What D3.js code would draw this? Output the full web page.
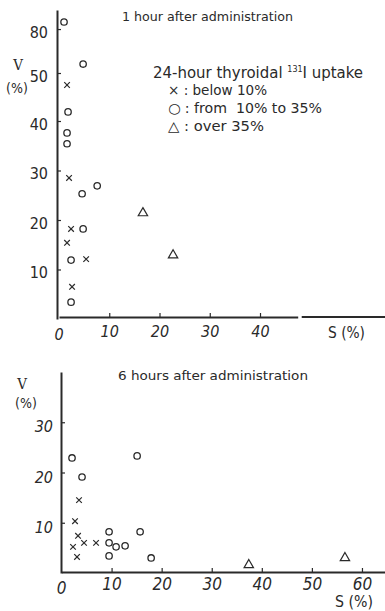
<!DOCTYPE html>
<html><head><meta charset="utf-8">
<script src="https://cdn.jsdelivr.net/npm/d3@7/dist/d3.min.js"></script>
<style>
html,body{margin:0;padding:0;background:#fff;}
svg{display:block;}
text{fill:#2a2a2a;font-family:"DejaVu Sans Condensed","DejaVu Sans",sans-serif;font-stretch:condensed;}
.pre{white-space:pre;}
</style></head>
<body>
<script>
// ---------- data ----------
// Panel 1: 1 hour after administration  (S %, V %)
const s1hBelow = [1.6, 2.0, 2.4, 1.6, 5.4, 2.6];
const v1hBelow = [47.5, 28.5, 18.2, 15.4, 12.1, 6.5];
const s1hMid   = [1.0, 4.8, 1.8, 1.6, 1.6, 4.6, 7.6, 4.8, 2.4, 2.4];
const v1hMid   = [84.8, 56.1, 41.9, 37.6, 35.4, 25.3, 26.9, 18.2, 11.9, 3.4];
const s1hOver  = [16.7, 22.7];
const v1hOver  = [21.4, 12.9];
// Panel 2: 6 hours after administration
const s6hBelow = [3.5, 2.7, 3.3, 2.3, 4.5, 6.9, 3.1];
const v6hBelow = [14.5, 10.3, 7.4, 5.2, 6.0, 6.0, 3.2];
const s6hMid   = [2.1, 15.1, 4.1, 9.5, 9.5, 10.9, 12.7, 15.7, 9.5, 17.9];
const v6hMid   = [22.9, 23.3, 19.1, 8.2, 6.0, 5.2, 5.4, 8.2, 3.4, 3.0];
const s6hOver  = [37.4, 56.6];
const v6hOver  = [1.6, 3.0];
// ticks
const yTicks1h = [10, 20, 30, 40, 50, 80];
const xTicks1h = [10, 20, 30, 40];
const yTicks6h = [10, 20, 30];
const xTicks6h = [10, 20, 30, 40, 50, 60];
const titles = ["1 hour after administration", "6 hours after administration"];
const legendTitle = "24-hour thyroidal ";
const legendItems = ["× : below 10%", "○ : from  10% to 35%", "△ : over 35%"];

const W = 385, H = 611, ink = "#2a2a2a";
const svg = d3.select("body").append("svg").attr("width", W).attr("height", H);

function zip(a, b){ return a.map((d,i)=>({s:d, v:b[i]})); }

function drawMarks(g, x, y, below, mid, over){
  g.append("g").selectAll("path").data(below).join("path")
    .attr("d", d => { const cx=x(d.s), cy=y(d.v), r=2.8;
      return `M${cx-r},${cy-r}L${cx+r},${cy+r}M${cx-r},${cy+r}L${cx+r},${cy-r}`; })
    .attr("stroke", ink).attr("stroke-width", 1.2).attr("fill","none");
  g.append("g").selectAll("circle").data(mid).join("circle")
    .attr("cx", d=>x(d.s)).attr("cy", d=>y(d.v)).attr("r", 3.2)
    .attr("stroke", ink).attr("stroke-width", 1.3).attr("fill","none");
  const tri = d3.symbol().type(d3.symbolTriangle).size(38);
  g.append("g").selectAll("path").data(over).join("path")
    .attr("d", tri).attr("transform", d=>`translate(${x(d.s)},${y(d.v)})`)
    .attr("stroke", ink).attr("stroke-width", 1.2).attr("fill","none");
}

function styleAxis(g){
  g.selectAll(".domain").attr("stroke", ink).attr("stroke-width", 2);
  g.selectAll(".tick line").attr("stroke", ink).attr("stroke-width", 1.2);
  g.selectAll(".tick text").attr("fill", ink);
}

// ---------- Panel 1 ----------
{
  const x = d3.scaleLinear().domain([0, 47.5]).range([59, 297.7]);
  const y = d3.scaleLinear().domain([0, 40, 50, 93]).range([319, 121, 73, 10]);
  const gy = svg.append("g").attr("transform", "translate(57,0)")
    .call(d3.axisLeft(y).tickValues(yTicks1h).tickSizeInner(-4).tickSizeOuter(0).tickPadding(9));
  styleAxis(gy);
  gy.selectAll(".tick text").attr("font-size", 16).attr("dy", "0.5em");
  const gx = svg.append("g").attr("transform", "translate(0,317)")
    .call(d3.axisBottom(x).tickValues(xTicks1h).tickSizeInner(-4).tickSizeOuter(0).tickPadding(10));
  styleAxis(gx);
  gx.selectAll(".tick text").attr("font-size", 16).attr("font-style","italic").attr("dy","0.6em");
  // continuation of x axis after the gap
  svg.append("line").attr("x1", x(48.3)).attr("x2", W).attr("y1", 317).attr("y2", 317)
    .attr("stroke", ink).attr("stroke-width", 2);
  svg.append("text").attr("x", x(0)).attr("y", 340).attr("text-anchor","middle")
    .attr("font-size", 16).attr("font-style","italic").text("0");
  svg.append("text").attr("x", 328).attr("y", 338).attr("font-size", 15).text("S (%)")
    .attr("textLength", 37).attr("lengthAdjust","spacingAndGlyphs");
  svg.append("text").attr("x", 18).attr("y", 70).attr("text-anchor","middle")
    .style("font-family","'DejaVu Serif',serif").attr("font-size", 15).text("V");
  svg.append("text").attr("x", 17).attr("y", 93).attr("text-anchor","middle")
    .attr("font-size", 14).text("(%)");
  svg.append("text").attr("x", 122).attr("y", 21).attr("font-size", 13).text(titles[0])
    .attr("textLength", 171).attr("lengthAdjust","spacingAndGlyphs");
  // legend
  svg.append("text").attr("x", 153).attr("y", 78).attr("font-size", 15)
    .attr("textLength", 210).attr("lengthAdjust","spacingAndGlyphs")
    .call(t => { t.append("tspan").text(legendTitle);
                 t.append("tspan").attr("font-size", 8).attr("dy", -6).text("131");
                 t.append("tspan").attr("dy", 6).text("I uptake"); });
  const legY = [95, 113, 131], legW = [99, 154, 96];
  legendItems.forEach((s,i)=>{
    svg.append("text").attr("class","pre").attr("x", 168).attr("y", legY[i]).attr("font-size", 14).text(s)
      .attr("textLength", legW[i]).attr("lengthAdjust","spacingAndGlyphs");
  });
  drawMarks(svg.append("g"), x, y, zip(s1hBelow, v1hBelow), zip(s1hMid, v1hMid), zip(s1hOver, v1hOver));
}

// ---------- Panel 2 ----------
{
  const x = d3.scaleLinear().domain([0, 64.6]).range([61.5, 385]);
  const y = d3.scaleLinear().domain([0, 40]).range([573, 372]);
  const gy = svg.append("g").attr("transform", "translate(61,0)")
    .call(d3.axisLeft(y).tickValues(yTicks6h).tickSizeInner(-4).tickSizeOuter(0).tickPadding(8));
  styleAxis(gy);
  gy.selectAll(".tick text").attr("font-size", 16).attr("font-style","italic").attr("dy", "0.6em");
  const gx = svg.append("g").attr("transform", "translate(0,572)")
    .call(d3.axisBottom(x).tickValues(xTicks6h).tickSizeInner(-4).tickSizeOuter(0).tickPadding(9));
  styleAxis(gx);
  gx.selectAll(".tick text").attr("font-size", 17).attr("font-style","italic").attr("dy","0.55em");
  svg.append("text").attr("x", x(0)).attr("y", 594).attr("text-anchor","middle")
    .attr("font-size", 17).attr("font-style","italic").text("0");
  svg.append("text").attr("x", 335).attr("y", 607).attr("font-size", 15).text("S (%)")
    .attr("textLength", 38).attr("lengthAdjust","spacingAndGlyphs");
  svg.append("text").attr("x", 22).attr("y", 389).attr("text-anchor","middle")
    .style("font-family","'DejaVu Serif',serif").attr("font-size", 15).text("V");
  svg.append("text").attr("x", 26).attr("y", 408).attr("text-anchor","middle")
    .attr("font-size", 14).text("(%)");
  svg.append("text").attr("x", 118).attr("y", 380).attr("font-size", 13).text(titles[1])
    .attr("textLength", 190).attr("lengthAdjust","spacingAndGlyphs");
  drawMarks(svg.append("g"), x, y, zip(s6hBelow, v6hBelow), zip(s6hMid, v6hMid), zip(s6hOver, v6hOver));
}
</script>
</body></html>
